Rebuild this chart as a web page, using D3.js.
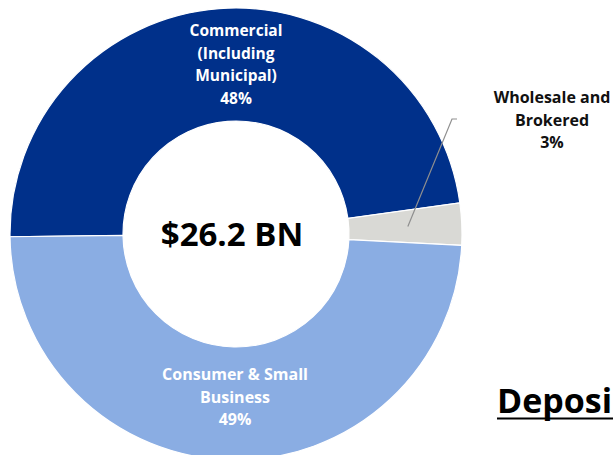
<!DOCTYPE html>
<html>
<head>
<meta charset="utf-8">
<script src="https://cdn.jsdelivr.net/npm/d3@7"></script>
<style>
  html, body { margin: 0; padding: 0; background: #ffffff; }
  svg { display: block; }
  text { font-family: "Open Sans", "Noto Sans", sans-serif; font-weight: 700; }
</style>
</head>
<body>
<svg id="chart" width="613" height="455"></svg>
<script>
// Deposit mix by segment
const segments = ["Commercial", "Wholesale and Brokered", "Consumer & Small Business"];
const shares = [48, 3, 49];
const labelLines = [
  ["Commercial", "(Including", "Municipal)"],
  ["Wholesale and", "Brokered"],
  ["Consumer & Small", "Business"]
];
const totalLabel = "$26.2 BN";
const titleText = "Deposi";

const colors = ["#00308a", "#d9d9d5", "#8aade3"];
const textColors = ["#ffffff", "#111111", "#ffffff"];

const svg = d3.select("#chart");
const W = 613, H = 455;
const cx = 236, cy = 234;
const outerR = 226, innerR = 113;

const startDeg = -90.7;
const pie = d3.pie()
  .sort(null)
  .value(d => d)
  .startAngle(startDeg * Math.PI / 180)
  .endAngle(startDeg * Math.PI / 180 + 2 * Math.PI);

const arc = d3.arc().innerRadius(innerR).outerRadius(outerR);

const g = svg.append("g").attr("transform", `translate(${cx},${cy})`);

const arcs = pie(shares);

g.selectAll("path.slice")
  .data(arcs)
  .join("path")
  .attr("class", "slice")
  .attr("d", arc)
  .attr("fill", (d, i) => colors[i])
  .attr("stroke", "#ffffff")
  .attr("stroke-width", 1.2);

// Centre total
g.append("text")
  .attr("x", -4)
  .attr("y", 12)
  .attr("text-anchor", "middle")
  .attr("font-size", 33)
  .attr("fill", "#000000")
  .text(totalLabel);

// Slice labels: first-line baseline of each block, and line step
const lineStep = 22.7;
const labelAnchors = [
  { x: 0, y: 36 - cy },
  { x: 552 - cx, y: 103 - cy },
  { x: -1, y: 380 - cy }
];
const fontSizes = [15.5, 16, 16];

arcs.forEach((a, i) => {
  const t = g.append("text")
    .attr("text-anchor", "middle")
    .attr("font-size", fontSizes[i])
    .attr("fill", textColors[i]);
  const lines = labelLines[i].concat([shares[i] + "%"]);
  lines.forEach((ln, k) => {
    t.append("tspan")
      .attr("x", labelAnchors[i].x)
      .attr("y", labelAnchors[i].y + k * lineStep)
      .text(ln);
  });
});

// Leader line for the small wholesale slice
const wholesale = arcs[1];
const midA = (wholesale.startAngle + wholesale.endAngle) / 2;
const rStart = 172;
const p0 = [Math.sin(midA) * rStart, -Math.cos(midA) * rStart];
const elbow = [452 - cx, 119 - cy];
const tail = [457 - cx, 119 - cy];
g.append("polyline")
  .attr("points", [p0, elbow, tail].map(p => p.join(",")).join(" "))
  .attr("fill", "none")
  .attr("stroke", "#8f8f8f")
  .attr("stroke-width", 1.2);

// Title, partly cut off at the right edge
svg.append("text")
  .attr("x", 497)
  .attr("y", 413)
  .attr("font-size", 34)
  .attr("fill", "#000000")
  .text(titleText);
svg.append("line")
  .attr("x1", 497).attr("x2", W)
  .attr("y1", 418.5).attr("y2", 418.5)
  .attr("stroke", "#000000")
  .attr("stroke-width", 2);
</script>
</body>
</html>
